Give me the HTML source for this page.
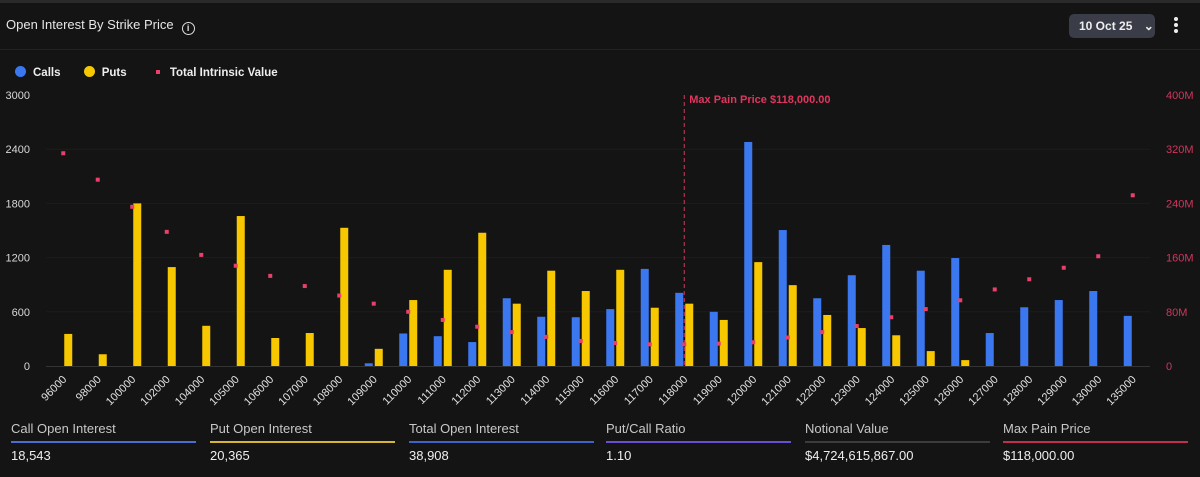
<!DOCTYPE html>
<html><head><meta charset="utf-8"><style>
html,body{margin:0;padding:0;background:#141414;width:1200px;height:477px;overflow:hidden;font-family:"Liberation Sans",sans-serif;}
#wrap{position:relative;width:1200px;height:477px;background:#141414;}
#topbar{position:absolute;left:0;top:0;width:1200px;height:3px;background:#2a2a2a;}
.title{position:absolute;left:6px;top:17px;color:#e6e6e6;font-size:13px;}
.info{display:inline-block;width:11px;height:11px;border:1.5px solid #ddd;border-radius:50%;font-size:9px;text-align:center;line-height:11px;margin-left:8px;vertical-align:-2px;font-weight:bold;}
.sep{position:absolute;left:0;top:49px;width:1200px;height:1px;background:#222;}
.date{position:absolute;left:1069px;top:14px;width:86px;height:24px;background:#3a3d47;border-radius:5px;color:#eee;font-size:12px;font-weight:bold;line-height:24px;padding-left:10px;box-sizing:border-box;}
.kebab{position:absolute;left:1174px;top:17px;width:4px;}
.kebab i{display:block;width:4px;height:4px;background:#eee;border-radius:50%;margin-bottom:2px;}
.legend{position:absolute;top:66px;left:15px;color:#eee;font-size:11.5px;font-weight:bold;}
.legend span{margin-right:20px;}
.dot{display:inline-block;width:11px;height:11px;border-radius:50%;vertical-align:-1px;margin-right:7px;}
.stat{position:absolute;top:421px;width:185px;}
.stat .l{color:#c8c8c8;font-size:13px;height:16px;}
.stat .u{height:2px;margin-top:4px;}
.stat .v{color:#eee;font-size:13px;margin-top:5px;}
</style></head><body>
<div id="wrap">
<div id="topbar"></div>
<div class="title">Open Interest By Strike Price<span class="info">i</span></div>
<div class="sep"></div>
<div class="date">10 Oct 25 <span style="margin-left:8px">&#8964;</span></div>
<div class="kebab"><i></i><i></i><i></i></div>
<div class="legend">
<span><i class="dot" style="background:#3b78f0"></i>Calls</span>
<span><i class="dot" style="background:#f7c800"></i>Puts</span>
<span><i style="display:inline-block;width:4px;height:4px;background:#e8406a;margin:0 10px 2px 6px"></i>Total Intrinsic Value</span>
</div>
<svg id="chart" width="1200" height="420" style="position:absolute;left:0;top:0"></svg>
<div class="stat" style="left:11px"><div class="l">Call Open Interest</div><div class="u" style="background:#4a6ed0"></div><div class="v">18,543</div></div>
<div class="stat" style="left:210px"><div class="l">Put Open Interest</div><div class="u" style="background:#d8b434"></div><div class="v">20,365</div></div>
<div class="stat" style="left:409px"><div class="l">Total Open Interest</div><div class="u" style="background:#3f62c8"></div><div class="v">38,908</div></div>
<div class="stat" style="left:606px"><div class="l">Put/Call Ratio</div><div class="u" style="background:#6a4fd0"></div><div class="v">1.10</div></div>
<div class="stat" style="left:805px"><div class="l">Notional Value</div><div class="u" style="background:#3c3c40"></div><div class="v">$4,724,615,867.00</div></div>
<div class="stat" style="left:1003px"><div class="l">Max Pain Price</div><div class="u" style="background:#c0304e"></div><div class="v">$118,000.00</div></div>
</div>
<script>
const strikes=[96000,98000,100000,102000,104000,105000,106000,107000,108000,109000,110000,111000,112000,113000,114000,115000,116000,117000,118000,119000,120000,121000,122000,123000,124000,125000,126000,127000,128000,129000,130000,135000];
const calls=[0,0,0,0,0,0,0,0,0,30,360,330,265,750,545,540,630,1075,810,600,2480,1505,750,1005,1340,1055,1195,365,650,730,830,555];
const puts=[355,130,1800,1095,445,1660,310,365,1530,190,730,1065,1475,690,1055,830,1065,645,690,510,1150,895,565,420,340,165,65,0,0,0,0,0];
const intrinsic=[314,275,235,198,164,148,133,118,104,92,80,68,58,50,43,37,34,32,32,33,35,42,50,59,72,84,97,113,128,145,162,252];
const leftTicks=[0,600,1200,1800,2400,3000];
const rightTicks=[0,80,160,240,320,400];
const maxPain=118000;
const NS="http://www.w3.org/2000/svg";
const svg=document.getElementById('chart');
const x0=46,x1=1150,yBase=366,yTop=95;
const band=(x1-x0)/strikes.length;
const cx=i=>x0+(i+0.5)*band;
const yL=v=>yBase-(v/3000)*(yBase-yTop);
const yR=v=>yBase-(v/400)*(yBase-yTop);
function mk(t,a){const e=document.createElementNS(NS,t);for(const k in a)e.setAttribute(k,a[k]);svg.appendChild(e);return e;}
leftTicks.forEach(t=>{
 if(t>0&&t<3000){const g=mk('line',{x1:x0,x2:x1,y1:yL(t),y2:yL(t),stroke:'#1c1c1c','stroke-width':1});}
 const lt=mk('text',{x:30,y:yL(t)+4,fill:'#d8d8d8','font-size':11,'text-anchor':'end','font-family':'Liberation Sans'});lt.textContent=t;
 
 
});
rightTicks.forEach(t=>{
 const rt=mk('text',{x:1166,y:yR(t)+4,fill:'#d0365e','font-size':11,'font-family':'Liberation Sans'});rt.textContent=t===0?'0':t+'M';
 
 
});
const base=mk('line',{x1:x0,x2:x1,y1:yBase+0.5,y2:yBase+0.5,stroke:'#333','stroke-width':1});


strikes.forEach((s,i)=>{
 const c=cx(i);
 if(calls[i]>0){const b=mk('rect',{x:c-9,y:yL(calls[i]),width:8,height:yBase-yL(calls[i]),fill:'#3b78f0'});
 
 }
 if(puts[i]>0){const b=mk('rect',{x:c+1,y:yL(puts[i]),width:8,height:yBase-yL(puts[i]),fill:'#f7c800'});
 
 }
 const p=mk('rect',{x:c-2,y:yR(intrinsic[i])-2,width:4,height:4,fill:'#e8406a'});
 
 
 const t=mk('text',{x:c+4,y:yBase+14,fill:'#e0e0e0','font-size':11,'text-anchor':'end','font-family':'Liberation Sans',transform:`rotate(-45 ${c+4} ${yBase+14})`});
 t.textContent=s;
 
 
});
const mi=strikes.indexOf(maxPain);
const mpx=cx(mi);
const ml=mk('line',{x1:mpx,x2:mpx,y1:yTop,y2:yBase,stroke:'#d0365e','stroke-width':1,'stroke-dasharray':'4,3'});


const mt=mk('text',{x:mpx+5,y:yTop+8,fill:'#e0365e','font-size':11,'font-weight':'bold','font-family':'Liberation Sans'});
mt.textContent='Max Pain Price $118,000.00';


</script>
</body></html>
